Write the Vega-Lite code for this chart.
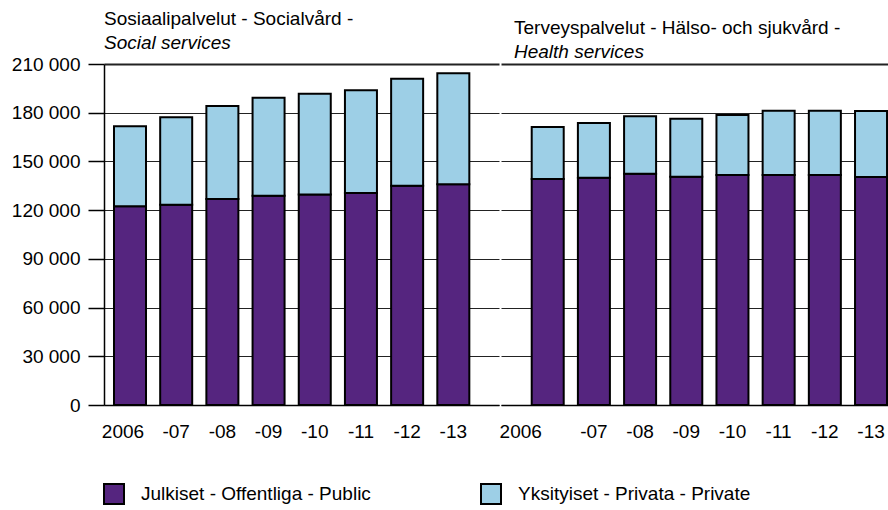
{
  "$schema": "https://vega.github.io/schema/vega-lite/v6.json",
  "padding": {"left": 11, "top": 10, "right": 0, "bottom": 0},
  "spacing": 0,
  "config": {
    "font": "Liberation Sans",
    "view": {"stroke": null},
    "title": {"anchor": "start", "frame": "group", "fontSize": 19, "fontWeight": "normal", "color": "black", "subtitleFontSize": 19, "subtitleFontStyle": "italic", "subtitleColor": "black", "subtitlePadding": 5, "offset": 2},
    "axis": {"labelFontSize": 19, "labelColor": "black", "domainColor": "black", "tickColor": "black", "title": null}
  },
  "data": {"values": [
    {"sector": "social", "year": "2006", "owner": "Julkiset - Offentliga - Public", "value": 122400},
    {"sector": "social", "year": "-07", "owner": "Julkiset - Offentliga - Public", "value": 123300},
    {"sector": "social", "year": "-08", "owner": "Julkiset - Offentliga - Public", "value": 126900},
    {"sector": "social", "year": "-09", "owner": "Julkiset - Offentliga - Public", "value": 128900},
    {"sector": "social", "year": "-10", "owner": "Julkiset - Offentliga - Public", "value": 129700},
    {"sector": "social", "year": "-11", "owner": "Julkiset - Offentliga - Public", "value": 130500},
    {"sector": "social", "year": "-12", "owner": "Julkiset - Offentliga - Public", "value": 135000},
    {"sector": "social", "year": "-13", "owner": "Julkiset - Offentliga - Public", "value": 135900},
    {"sector": "social", "year": "2006", "owner": "Yksityiset - Privata - Private", "value": 49200},
    {"sector": "social", "year": "-07", "owner": "Yksityiset - Privata - Private", "value": 53900},
    {"sector": "social", "year": "-08", "owner": "Yksityiset - Privata - Private", "value": 57200},
    {"sector": "social", "year": "-09", "owner": "Yksityiset - Privata - Private", "value": 60300},
    {"sector": "social", "year": "-10", "owner": "Yksityiset - Privata - Private", "value": 62000},
    {"sector": "social", "year": "-11", "owner": "Yksityiset - Privata - Private", "value": 63300},
    {"sector": "social", "year": "-12", "owner": "Yksityiset - Privata - Private", "value": 65900},
    {"sector": "social", "year": "-13", "owner": "Yksityiset - Privata - Private", "value": 68400},
    {"sector": "health", "year": "2006", "owner": "Julkiset - Offentliga - Public", "value": 139200},
    {"sector": "health", "year": "-07", "owner": "Julkiset - Offentliga - Public", "value": 140000},
    {"sector": "health", "year": "-08", "owner": "Julkiset - Offentliga - Public", "value": 142400},
    {"sector": "health", "year": "-09", "owner": "Julkiset - Offentliga - Public", "value": 140600},
    {"sector": "health", "year": "-10", "owner": "Julkiset - Offentliga - Public", "value": 141600},
    {"sector": "health", "year": "-11", "owner": "Julkiset - Offentliga - Public", "value": 141600},
    {"sector": "health", "year": "-12", "owner": "Julkiset - Offentliga - Public", "value": 141600},
    {"sector": "health", "year": "-13", "owner": "Julkiset - Offentliga - Public", "value": 140400},
    {"sector": "health", "year": "2006", "owner": "Yksityiset - Privata - Private", "value": 32000},
    {"sector": "health", "year": "-07", "owner": "Yksityiset - Privata - Private", "value": 33700},
    {"sector": "health", "year": "-08", "owner": "Yksityiset - Privata - Private", "value": 35400},
    {"sector": "health", "year": "-09", "owner": "Yksityiset - Privata - Private", "value": 35700},
    {"sector": "health", "year": "-10", "owner": "Yksityiset - Privata - Private", "value": 37000},
    {"sector": "health", "year": "-11", "owner": "Yksityiset - Privata - Private", "value": 39600},
    {"sector": "health", "year": "-12", "owner": "Yksityiset - Privata - Private", "value": 39600},
    {"sector": "health", "year": "-13", "owner": "Yksityiset - Privata - Private", "value": 40600}
  ]},
  "resolve": {"scale": {"x": "independent", "y": "independent"}},
  "hconcat": [
    {
      "width": 395,
      "height": 341,
      "title": {"text": "Sosiaalipalvelut - Socialvård -", "subtitle": "Social services"},
      "transform": [{"filter": "datum.sector == 'social'"}],
      "mark": {"type": "bar", "stroke": "black", "strokeWidth": 2},
      "encoding": {
        "x": {"field": "year", "type": "ordinal", "sort": ["2006", "-07", "-08", "-09", "-10", "-11", "-12", "-13"],
          "scale": {"paddingInner": 0.307, "paddingOuter": 0.4294, "align": 0.252},
          "axis": {"ticks": false, "labelAngle": 0, "labelPadding": 17, "domainWidth": 1.5,
            "labelOffset": {"condition": {"test": "datum.value === '2006'", "value": -7}, "value": 0}}},
        "y": {"field": "value", "type": "quantitative", "stack": "zero",
          "scale": {"domain": [0, 210000], "nice": false},
          "axis": {"values": [0, 30000, 60000, 90000, 120000, 150000, 180000, 210000],
            "labelExpr": "replace(format(datum.value, ','), ',', ' ')",
            "tickSize": 16, "tickWidth": 1.5, "labelPadding": 8, "domainWidth": 1.5,
            "grid": true, "gridColor": "#222",
            "gridWidth": {"condition": {"test": "datum.value === 210000", "value": 2}, "value": 1}}},
        "color": {"field": "owner", "type": "nominal",
          "scale": {"domain": ["Julkiset - Offentliga - Public", "Yksityiset - Privata - Private"], "range": ["#55257F", "#9DCFE6"]},
          "legend": {"orient": "none", "legendX": -1, "legendY": 419, "direction": "horizontal", "columns": 2, "title": null,
            "symbolType": "square", "symbolSize": 400, "symbolStrokeColor": "black", "symbolStrokeWidth": 2, "symbolOpacity": 1,
            "labelFontSize": 19, "labelColor": "black", "labelOffset": 16, "columnPadding": 106, "labelLimit": 400, "padding": 0}},
        "order": {"field": "owner", "sort": "ascending"}
      }
    },
    {
      "width": 389,
      "height": 341,
      "title": {"text": "Terveyspalvelut - Hälso- och sjukvård -", "subtitle": "Health services", "dx": 13},
      "transform": [{"filter": "datum.sector == 'health'"}],
      "mark": {"type": "bar", "stroke": "black", "strokeWidth": 2},
      "encoding": {
        "x": {"field": "year", "type": "ordinal", "sort": ["2006", "-07", "-08", "-09", "-10", "-11", "-12", "-13"],
          "scale": {"paddingInner": 0.307, "paddingOuter": 0.3645, "align": 0.912},
          "axis": {"ticks": false, "labelAngle": 0, "labelPadding": 17, "domainWidth": 1.5,
            "labelOffset": {"condition": {"test": "datum.value === '2006'", "value": -27}, "value": 0}}},
        "y": {"field": "value", "type": "quantitative", "stack": "zero",
          "scale": {"domain": [0, 210000], "nice": false},
          "axis": {"values": [0, 30000, 60000, 90000, 120000, 150000, 180000, 210000],
            "labels": false, "ticks": false, "domain": false,
            "grid": true, "gridColor": "#222",
            "gridWidth": {"condition": {"test": "datum.value === 210000", "value": 2}, "value": 1}}},
        "color": {"field": "owner", "type": "nominal",
          "scale": {"domain": ["Julkiset - Offentliga - Public", "Yksityiset - Privata - Private"], "range": ["#55257F", "#9DCFE6"]},
          "legend": {"orient": "none", "legendX": -1, "legendY": 419, "direction": "horizontal", "columns": 2, "title": null,
            "symbolType": "square", "symbolSize": 400, "symbolStrokeColor": "black", "symbolStrokeWidth": 2, "symbolOpacity": 1,
            "labelFontSize": 19, "labelColor": "black", "labelOffset": 16, "columnPadding": 106, "labelLimit": 400, "padding": 0}},
        "order": {"field": "owner", "sort": "ascending"}
      }
    }
  ]
}
